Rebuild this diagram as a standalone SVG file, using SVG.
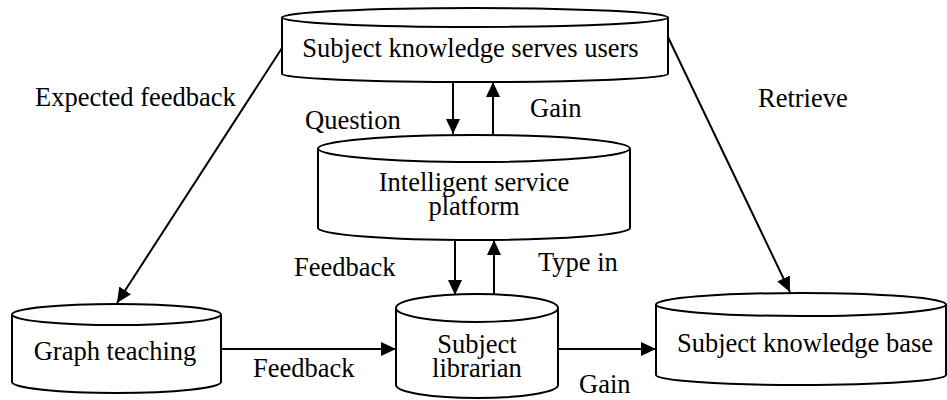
<svg xmlns="http://www.w3.org/2000/svg" width="947" height="400" viewBox="0 0 947 400" font-family="Liberation Serif, Times New Roman, Times, serif">
<style>
.cyl{fill:#fff;stroke:#000;stroke-width:2}
text{font-family:"Liberation Serif","Times New Roman",Times,serif;font-size:26.5px;fill:#000}
.m{text-anchor:middle}
.c{fill:none;stroke:#000;stroke-width:2}
</style>
<defs>
<marker id="ah" markerUnits="userSpaceOnUse" markerWidth="16" markerHeight="15" refX="15" refY="7" orient="auto">
<path d="M0,0 L15,7 L0,14 Z" fill="#000"/>
</marker>
</defs>
<rect width="947" height="400" fill="#fff"/>
<g id="connectors">
<path class="c" d="M282,48 L117,303" marker-end="url(#ah)"/>
<path class="c" d="M667,35 L790,292" marker-end="url(#ah)"/>
<path class="c" d="M453,82 L453,134" marker-end="url(#ah)"/>
<path class="c" d="M493,135 L493,82" marker-end="url(#ah)"/>
<path class="c" d="M455,240 L455,295" marker-end="url(#ah)"/>
<path class="c" d="M494,295 L494,240" marker-end="url(#ah)"/>
<path class="c" d="M221,349 L396,349" marker-end="url(#ah)"/>
<path class="c" d="M558,349 L656,349" marker-end="url(#ah)"/>
</g>
<g id="labels">
<text x="35" y="106">Expected feedback</text>
<text x="305" y="129">Question</text>
<text x="530" y="117">Gain</text>
<text x="758" y="107">Retrieve</text>
<text x="294" y="276">Feedback</text>
<text x="538" y="271">Type in</text>
<text x="253" y="377">Feedback</text>
<text x="579" y="393">Gain</text>
</g>
<g id="users">
<path class="cyl" d="M282,17.5 L282,74 A193,8 0 0 0 668,74 L668,17.5"/>
<ellipse class="cyl" cx="475" cy="17.5" rx="193" ry="9.5"/>
<text class="m" x="470.5" y="57">Subject knowledge serves users</text>
</g>
<g id="platform">
<path class="cyl" d="M318,148.5 L318,228 A156,12 0 0 0 630,228 L630,148.5"/>
<ellipse class="cyl" cx="474" cy="148.5" rx="156" ry="13.5"/>
<text class="m" x="474" y="191">Intelligent service</text>
<text class="m" x="474" y="215">platform</text>
</g>
<g id="graph">
<path class="cyl" d="M12,314.5 L12,382 A104.5,11 0 0 0 221,382 L221,314.5"/>
<ellipse class="cyl" cx="116.5" cy="314.5" rx="104.5" ry="10.5"/>
<text class="m" x="115" y="360">Graph teaching</text>
</g>
<g id="librarian">
<path class="cyl" d="M396,308 L396,385 A81,13 0 0 0 558,385 L558,308"/>
<ellipse class="cyl" cx="477" cy="308" rx="81" ry="14"/>
<text class="m" x="477" y="353">Subject</text>
<text class="m" x="477" y="377">librarian</text>
</g>
<g id="kb">
<path class="cyl" d="M656,304.5 L656,375 A145,10 0 0 0 946,375 L946,304.5"/>
<ellipse class="cyl" cx="801" cy="304.5" rx="145" ry="11.5"/>
<text class="m" x="805" y="352">Subject knowledge base</text>
</g>
</svg>
